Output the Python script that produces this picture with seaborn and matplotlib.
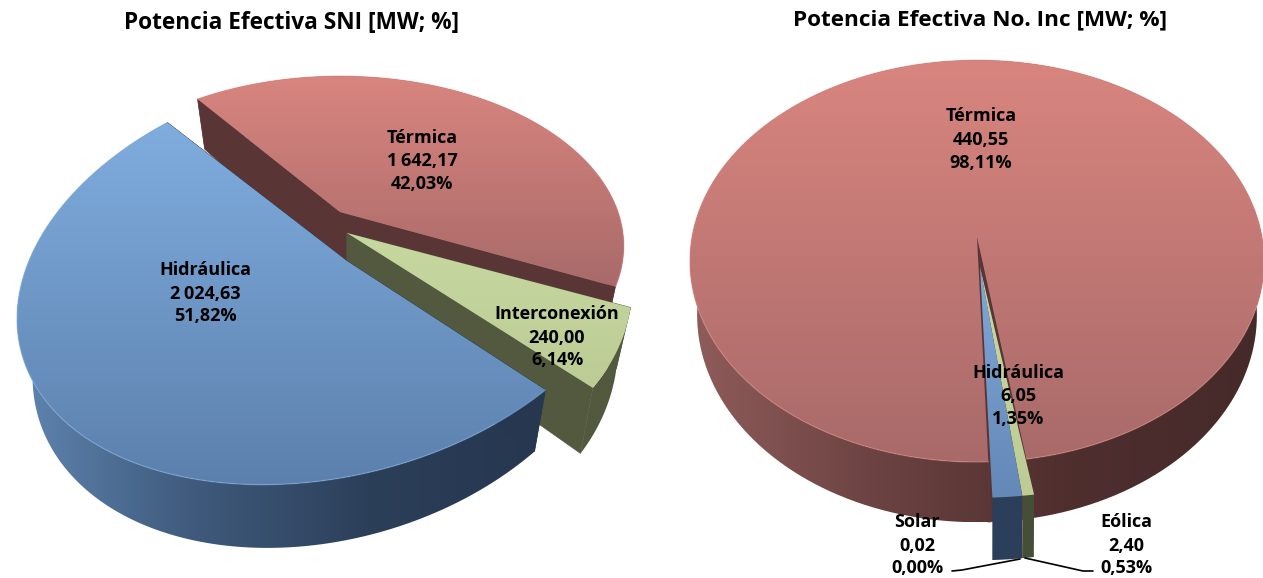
import numpy as np
import matplotlib
matplotlib.use("Agg")
import matplotlib.pyplot as plt
import seaborn as sns
from matplotlib.patches import Polygon

# left chart
sni_names = ["Térmica", "Interconexión", "Hidráulica"]
sni_values = [1642.17, 240.00, 2024.63]
sni_value_text = ["1\u2009642,17", "240,00", "2\u2009024,63"]
sni_pct_text = ["42,03%", "6,14%", "51,82%"]

# right chart
inc_names = ["Hidráulica", "Solar", "Eólica", "Térmica"]
inc_values = [6.05, 0.02, 2.40, 440.55]
inc_value_text = ["6,05", "0,02", "2,40", "440,55"]
inc_pct_text = ["1,35%", "0,00%", "0,53%", "98,11%"]

titles = ["Potencia Efectiva SNI [MW; %]", "Potencia Efectiva No. Inc [MW; %]"]

sns.set_theme(style="white")
plt.rcParams["font.family"] = ["Open Sans", "DejaVu Sans"]

BLUE = {"top": ["#7fadde", "#5c80ad"], "side": ["#5f85b0", "#3f5a7c", "#2c3f59", "#26374f"], "wall": "#26374f"}
RED = {"top": ["#d9857f", "#a86a69"], "side": ["#8f5c5a", "#6a4241", "#4f2e2e", "#452a2a"], "wall": "#5a3535"}
GREEN = {"top": ["#c6d8a0", "#bccc94"], "side": ["#52593e", "#52593e"], "wall": "#52593e"}
PURPLE = {"top": ["#8f7bad", "#7c6a98"], "side": ["#4f4360", "#4f4360"], "wall": "#4f4360"}
BLUE_FLAT = dict(BLUE, top=["#7fa8d8", "#6488b8"], side=["#2b3f5b", "#2b3f5b"])
GREEN_FLAT = dict(GREEN, side=["#464e38", "#464e38"])

# projection of each slice: centre, tip, radii, perspective, tilt
left_geom = [
    dict(c=(340, 212), tip=(340, 212), a=163, b=278, k=.20, t=0, s=0, d=58, col=RED, sh=.95),
    dict(c=(347, 233), tip=(347, 233), a=195, b=270, k=.20, t=15, s=-35, d=56, col=GREEN, sh=.95),
    dict(c=(328, 255), tip=(347, 261), a=204, b=308, k=.10, t=35, s=12, d=57, col=BLUE, sh=.95),
]
sliver = dict(c=(980, 267), tip=(980, 267), a=203, b=312, k=.12, t=0, s=0, d=55, sh=.995, walls=False)
right_geom = [
    dict(sliver, col=BLUE_FLAT),
    dict(sliver, col=PURPLE),
    dict(sliver, col=GREEN_FLAT),
    dict(c=(977, 237), tip=(977, 237), a=198, b=285, k=.12, t=0, s=0, d=53, col=RED, sh=.975),
]


def project(theta, g):
    u, v = np.cos(np.radians(theta)), np.sin(np.radians(theta))
    w = 1 + g["k"] * v
    x = g["c"][0] + (g["b"] * u + g["s"] * v) / w
    y = g["c"][1] - (g["a"] * v + g["t"] * u) / w
    xb = g["c"][0] + (x - g["c"][0]) * g["sh"]
    yb = y + g["d"] / w
    return np.column_stack([x, y]), np.column_stack([xb, yb])


def gradient_fill(ax, pts, colors, vertical=True, zorder=1):
    cmap = sns.blend_palette(colors, as_cmap=True)
    x0, y0 = pts.min(axis=0)
    x1, y1 = pts.max(axis=0)
    grad = np.linspace(0, 1, 256)
    grad = grad[:, None] if vertical else grad[None, :]
    im = ax.imshow(grad, cmap=cmap, extent=(x0, x1, y1, y0), origin="upper",
                   aspect="auto", interpolation="bilinear", zorder=zorder, vmin=0, vmax=1)
    patch = Polygon(pts, closed=True, transform=ax.transData, fc="none", ec="none")
    ax.add_patch(patch)
    im.set_clip_path(patch)


def draw_slice(ax, theta1, theta2, g, z):
    col = g["col"]
    thetas = np.linspace(theta1, theta2, 200)
    rim, low = project(thetas, g)
    tip = np.array(g["tip"], dtype=float)
    tip_low = tip + [0, g["d"]]

    side = np.vstack([rim, low[::-1]])
    gradient_fill(ax, side, col["side"], vertical=False, zorder=z)
    if g.get("walls", True):
        for i in (0, -1):
            wall = np.array([tip, rim[i], low[i], tip_low])
            ax.add_patch(Polygon(wall, closed=True, fc=col["wall"], ec=col["wall"], lw=.5, zorder=z + .1))
        # big slice: close the notch left by the pulled out slivers
        if theta2 - theta1 > 300:
            notch = np.array([tip, rim[-1], low[-1], low[0], rim[0]])
            ax.add_patch(Polygon(notch, closed=True, fc=col["wall"], ec=col["wall"], lw=.5, zorder=z + .1))

    top = np.vstack([tip, rim])
    gradient_fill(ax, top, col["top"], zorder=z + .2)
    if col is BLUE or col is RED:
        ax.plot(rim[:, 0], rim[:, 1], color=col["top"][0], lw=1.0, alpha=.5, zorder=z + .3)


def draw_pie(ax, values, geom, order, startangle, counterclock):
    wedges, _ = ax.pie(values, startangle=startangle, counterclock=counterclock)
    angles = [(w.theta1, w.theta2) for w in wedges]
    for w in wedges:
        w.remove()
    for z, i in enumerate(order):
        draw_slice(ax, angles[i][0], angles[i][1], geom[i], (z + 1) * 2)


fig = plt.figure(figsize=(12.63, 5.78), dpi=100)
ax = fig.add_axes([0, 0, 1, 1])

draw_pie(ax, sni_values, left_geom, [0, 1, 2], 126.5, False)
draw_pie(ax, inc_values, right_geom, [3, 2, 1, 0], -88, True)

ax.set_aspect("auto")
ax.set_xlim(0, 1263)
ax.set_ylim(578, 0)
ax.axis("off")

LABEL = dict(ha="center", va="center", fontsize=13, fontweight="bold", color="black", zorder=30)


def label(x, ys, name, val, pct):
    for y, s in zip(ys, (name, val, pct)):
        ax.text(x, y, s, **LABEL)


sni_pos = [(422, (138, 161, 184)), (557, (314, 338, 360)), (205, (270, 294, 316))]
for i, (x, ys) in enumerate(sni_pos):
    label(x, ys, sni_names[i], sni_value_text[i], sni_pct_text[i])

inc_pos = [(1018, (373, 396, 419)), (917, (522, 546, 568)), (1126, (522, 546, 568)), (981, (116, 140, 163))]
for i, (x, ys) in enumerate(inc_pos):
    label(x, ys, inc_names[i], inc_value_text[i], inc_pct_text[i])

ax.plot([952, 962, 1020], [571, 570, 559], color="black", lw=1.2, zorder=25)
ax.plot([1025, 1083, 1093], [558, 571, 571], color="black", lw=1.2, zorder=25)

ax.text(292, 23, titles[0], ha="center", va="center", fontsize=16.3, fontweight="bold", color="black")
ax.text(980, 20, titles[1], ha="center", va="center", fontsize=16.2, fontweight="bold", color="black")

fig.savefig("out.png", dpi=100, facecolor="white")
